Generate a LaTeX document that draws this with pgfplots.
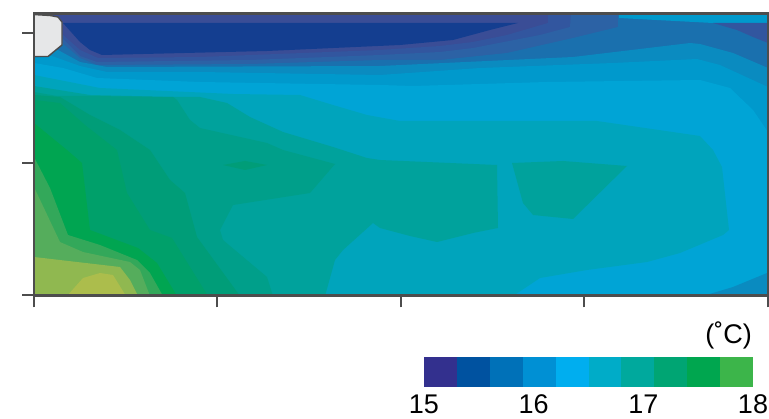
\documentclass[border=0pt]{standalone}
\usepackage{fontspec}
\setmainfont{Liberation Sans}
\usepackage{pgfplots}
\pgfplotsset{compat=1.18}
\definecolor{Lz}{HTML}{143E90}
\definecolor{La}{HTML}{3A4D96}
\definecolor{Lb}{HTML}{32569F}
\definecolor{Lc}{HTML}{2C62A5}
\definecolor{Ld}{HTML}{1A70AE}
\definecolor{Le}{HTML}{0A8BC0}
\definecolor{Lf}{HTML}{0099CC}
\definecolor{Lg}{HTML}{00A4D6}
\definecolor{Lh}{HTML}{00A4BC}
\definecolor{Li}{HTML}{00A29C}
\definecolor{Lj}{HTML}{009F8A}
\definecolor{Lk}{HTML}{009D78}
\definecolor{Ll}{HTML}{00A06A}
\definecolor{Lm}{HTML}{00A551}
\definecolor{Ln}{HTML}{33A85A}
\definecolor{Lo}{HTML}{55AD5C}
\definecolor{Lp}{HTML}{90B850}
\definecolor{Lq}{HTML}{ACBD4C}
\definecolor{Ax}{HTML}{4D4D4D}
\definecolor{Mk}{HTML}{E6E7E8}
\pgfplotsset{reg/.style={fill=#1,draw=none,mark=none,line width=0pt}}
\begin{document}
\begin{tikzpicture}
\path[use as bounding box] (0,0) rectangle (769pt,418pt);
\begin{axis}[
  at={(34pt,122.5pt)},anchor=south west,scale only axis,
  width=734pt,height=282pt,
  xmin=34,xmax=768,ymin=-295.5,ymax=-13.5,
  xtick={34,217,401,584,768},ytick={-295,-163,-33},
  xticklabels={},yticklabels={},
  tick align=outside,xtick pos=lower,ytick pos=left,
  major tick length=12pt,
  tick style={line width=2pt,color=Ax},
  axis line style={line width=2.5pt,color=Ax},
  axis on top,clip=true]
\addplot[reg=La] coordinates {(34,-13)(768,-13)(768,-296)(34,-296)} --cycle;
\addplot[reg=Lb] coordinates {(34,-30)(62,-34)(80,-50)(98,-58)(200,-57)(380,-50)(440,-46)(473,-42)(507,-35)(548,-23)(548,-13)(768,-13)(768,-296)(34,-296)} --cycle;
\addplot[reg=Lc] coordinates {(34,-38)(62,-38)(80,-56)(97,-62)(250,-60)(380,-55)(440,-52)(473,-48)(540,-35)(570,-27)(571,-13)(768,-13)(768,-296)(34,-296)} --cycle;
\addplot[reg=Ld] coordinates {(34,-42)(62,-43)(80,-58)(97,-65)(250,-64)(380,-60)(440,-60)(507,-53)(573,-38)(618,-27)(618,-13)(768,-13)(768,-296)(34,-296)} --cycle;
\addplot[reg=Le] coordinates {(34,-50)(58,-50)(80,-62)(107,-67)(380,-66)(573,-57)(690,-43)(700,-44)(733,-53)(768,-68)(768,-296)(34,-296)} --cycle;
\addplot[reg=Lf] coordinates {(34,-58)(52,-56)(80,-66)(107,-72)(200,-72)(380,-75)(480,-68)(613,-63)(697,-59)(720,-65)(768,-87)(768,-296)(34,-296)} --cycle;
\addplot[reg=Lg] coordinates {(34,-63)(63,-68)(97,-78)(200,-82)(380,-85)(413,-86)(547,-82)(700,-80)(730,-88)(753,-110)(768,-132)(768,-296)(34,-296)} --cycle;
\addplot[reg=Lh] coordinates {(34,-75)(100,-88)(167,-91)(233,-94)(300,-95)(333,-105)(367,-115)(400,-121)(597,-121)(700,-136)(713,-150)(722,-167)(729,-230)(723,-235)(680,-253)(647,-262)(587,-270)(540,-278)(513,-296)(34,-296)} --cycle;
\addplot[reg=Li] coordinates {(34,-86)(90,-95)(173,-97)(200,-97)(227,-103)(250,-117)(283,-132)(333,-147)(367,-158)(380,-160)(497,-165)(498,-228)(473,-233)(437,-242)(410,-236)(380,-228)(373,-223)(343,-250)(335,-260)(325,-296)(34,-296)} --cycle;
\addplot[reg=Li] coordinates {(512,-163)(563,-161)(627,-166)(573,-219)(533,-215)(523,-203)} --cycle;
\addplot[reg=Lj] coordinates {(34,-92)(57,-96)(90,-96)(173,-97)(177,-100)(190,-120)(200,-128)(267,-143)(283,-150)(335,-164)(310,-193)(233,-205)(220,-230)(223,-240)(267,-277)(273,-296)(34,-296)} --cycle;
\addplot[reg=Lk] coordinates {(223,-165)(245,-161)(267,-165)(245,-170)} --cycle;
\addplot[reg=Lk] coordinates {(34,-95)(60,-97)(90,-115)(120,-130)(150,-150)(170,-180)(185,-193)(197,-237)(240,-296)(34,-296)} --cycle;
\addplot[reg=Ll] coordinates {(34,-100)(60,-103)(85,-125)(117,-150)(127,-193)(150,-230)(172,-238)(208,-296)(34,-296)} --cycle;
\addplot[reg=Lm] coordinates {(34,-123)(67,-150)(82,-163)(90,-230)(138,-248)(157,-263)(177,-296)(34,-296)} --cycle;
\addplot[reg=Ln] coordinates {(34,-157)(50,-188)(68,-235)(100,-245)(137,-260)(150,-273)(163,-296)(34,-296)} --cycle;
\addplot[reg=Lo] coordinates {(34,-187)(60,-242)(83,-252)(130,-262)(140,-270)(150,-296)(34,-296)} --cycle;
\addplot[reg=Lp] coordinates {(34,-257)(120,-267)(130,-280)(138,-296)(34,-296)} --cycle;
\addplot[reg=Lq] coordinates {(67,-296)(83,-278)(100,-273)(113,-275)(126,-296)} --cycle;
\addplot[reg=Lz] coordinates {(63,-23)(518,-23)(490,-30)(453,-40)(400,-45)(267,-51)(102,-55)(90,-50)(80,-42)} --cycle;
\addplot[reg=Lf] coordinates {(619,-13)(768,-13)(768,-23)(713,-23)(619,-18)} --cycle;
\addplot[reg=Lb] coordinates {(713,-23)(768,-23)(768,-43)(753,-37)(737,-30)} --cycle;
\addplot[reg=Le] coordinates {(703,-296)(733,-287)(767,-273)(768,-273)(768,-296)} --cycle;
\addplot[fill=Mk,draw=Ax,line width=1.4pt,mark=none] coordinates {(33,-14.5)(50,-15.5)(58,-17)(62,-22)(62,-45)(48,-56.5)(33,-56.5)} --cycle;
\end{axis}
\begin{axis}[
  at={(424pt,31pt)},anchor=south west,scale only axis,
  width=329pt,height=30pt,
  xmin=15,xmax=18,ymin=0,ymax=1,
  xtick={15,16,17,18},ytick=\empty,
  xtick pos=lower,major tick length=0pt,
  axis line style={draw=none},
  /pgf/number format/assume math mode=true,
  xticklabel style={font=\fontsize{27}{30}\selectfont,inner sep=0pt,anchor=base,yshift=-26pt},
  axis on top=false]
\addplot[fill={rgb,255:red,51;green,48;blue,142},draw=none,mark=none] coordinates {(15.0,0)(15.31,0)(15.31,1)(15.0,1)} --cycle;
\addplot[fill={rgb,255:red,0;green,82;blue,160},draw=none,mark=none] coordinates {(15.3,0)(15.61,0)(15.61,1)(15.3,1)} --cycle;
\addplot[fill={rgb,255:red,0;green,113;blue,184},draw=none,mark=none] coordinates {(15.6,0)(15.91,0)(15.91,1)(15.6,1)} --cycle;
\addplot[fill={rgb,255:red,0;green,144;blue,212},draw=none,mark=none] coordinates {(15.9,0)(16.21,0)(16.21,1)(15.9,1)} --cycle;
\addplot[fill={rgb,255:red,0;green,174;blue,239},draw=none,mark=none] coordinates {(16.2,0)(16.51,0)(16.51,1)(16.2,1)} --cycle;
\addplot[fill={rgb,255:red,0;green,172;blue,200},draw=none,mark=none] coordinates {(16.5,0)(16.81,0)(16.81,1)(16.5,1)} --cycle;
\addplot[fill={rgb,255:red,0;green,169;blue,157},draw=none,mark=none] coordinates {(16.8,0)(17.11,0)(17.11,1)(16.8,1)} --cycle;
\addplot[fill={rgb,255:red,0;green,165;blue,115},draw=none,mark=none] coordinates {(17.1,0)(17.41,0)(17.41,1)(17.1,1)} --cycle;
\addplot[fill={rgb,255:red,0;green,166;blue,79},draw=none,mark=none] coordinates {(17.4,0)(17.71,0)(17.71,1)(17.4,1)} --cycle;
\addplot[fill={rgb,255:red,60;green,181;blue,74},draw=none,mark=none] coordinates {(17.7,0)(18,0)(18,1)(17.7,1)} --cycle;
\end{axis}
\node[anchor=base east,inner sep=0pt,font=\fontsize{27}{30}\selectfont] at (752pt,74pt) {(˚C)};
\end{tikzpicture}
\end{document}
